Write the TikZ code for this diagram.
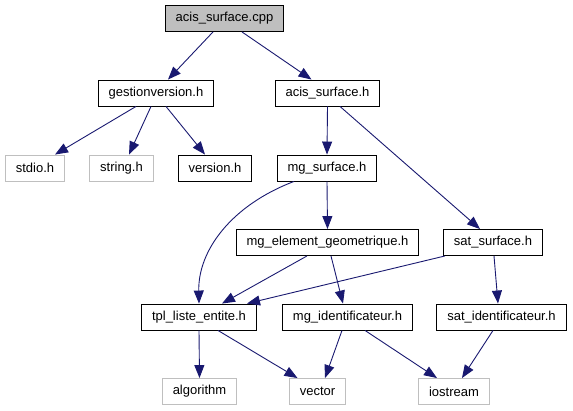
\documentclass[tikz,border=0pt]{standalone}
\usepackage{fontspec}
\setmainfont{Liberation Sans}
\usetikzlibrary{arrows.meta}
\definecolor{EdgeNavy}{HTML}{191970}
\definecolor{SysGray}{HTML}{BFBFBF}
\definecolor{RootGray}{HTML}{BFBFBF}
\tikzset{
  hfile/.style={draw=black, fill=white, line width=0.9pt, inner xsep=10.5pt, minimum height=26pt, font=\fontsize{13}{15}\selectfont},
  sysfile/.style={hfile, draw=SysGray},
  rootfile/.style={hfile, fill=RootGray},
  inc/.style={draw=EdgeNavy, line width=0.9pt, -{Triangle[length=13pt, width=10pt]}}
}
\begin{document}
\begin{tikzpicture}[x=1pt, y=-1pt]
    \useasboundingbox (0,0) rectangle (573,411);
    \node[rootfile] (cpp) at (224.5,18.5) {acis\_surface.cpp};
    \node[hfile] (gv) at (156,93) {gestionversion.h};
    \node[hfile] (ash) at (327.5,93) {acis\_surface.h};
    \node[sysfile] (stdio) at (35,168) {stdio.h};
    \node[sysfile] (str) at (121.5,168) {string.h};
    \node[hfile] (ver) at (215,168) {version.h};
    \node[hfile] (ms) at (327,168) {mg\_surface.h};
    \node[hfile] (meg) at (327.5,242.5) {mg\_element\_geometrique.h};
    \node[hfile] (ss) at (493,242.5) {sat\_surface.h};
    \node[hfile] (tpl) at (199,317) {tpl\_liste\_entite.h};
    \node[hfile] (mid) at (347.5,317) {mg\_identificateur.h};
    \node[hfile] (sid) at (501.5,317) {sat\_identificateur.h};
    \node[sysfile] (algo) at (199.5,391.5) {algorithm};
    \node[sysfile] (vec) at (317.5,391.5) {vector};
    \node[sysfile] (ios) at (454,391.5) {iostream};
    \draw[inc] ([xshift=-11.5]cpp.south) -- ([xshift=12]gv.north);
    \draw[inc] ([xshift=17.5]cpp.south) -- ([xshift=-16]ash.north);
    \draw[inc] ([xshift=-20]gv.south) -- ([xshift=20]stdio.north);
    \draw[inc] ([xshift=-5]gv.south) -- ([xshift=7.5]str.north);
    \draw[inc] ([xshift=10]gv.south) -- ([xshift=-10]ver.north);
    \draw[inc] (ash.south) -- (ms.north);
    \draw[inc] ([xshift=12.5]ash.south) -- ([xshift=-13]ss.north);
    \draw[inc] ([xshift=-33]ms.south) .. controls (232,205) and (198,250) .. (tpl.north);
    \draw[inc] (ms.south) -- (meg.north);
    \draw[inc] ([xshift=-20.5]meg.south) -- ([xshift=23]tpl.north);
    \draw[inc] ([xshift=3.5]meg.south) -- ([xshift=-4.5]mid.north);
    \draw[inc] ([xshift=-48]ss.south) -- ([xshift=48]tpl.north);
    \draw[inc] ([xshift=1]ss.south) -- ([xshift=-3.5]sid.north);
    \draw[inc] (tpl.south) -- (algo.north);
    \draw[inc] ([xshift=19]tpl.south) -- ([xshift=-20]vec.north);
    \draw[inc] ([xshift=-5.5]mid.south) -- ([xshift=7.5]vec.north);
    \draw[inc] ([xshift=17.5]mid.south) -- ([xshift=-17]ios.north);
    \draw[inc] ([xshift=-8.5]sid.south) -- ([xshift=8]ios.north);
\end{tikzpicture}
\end{document}
